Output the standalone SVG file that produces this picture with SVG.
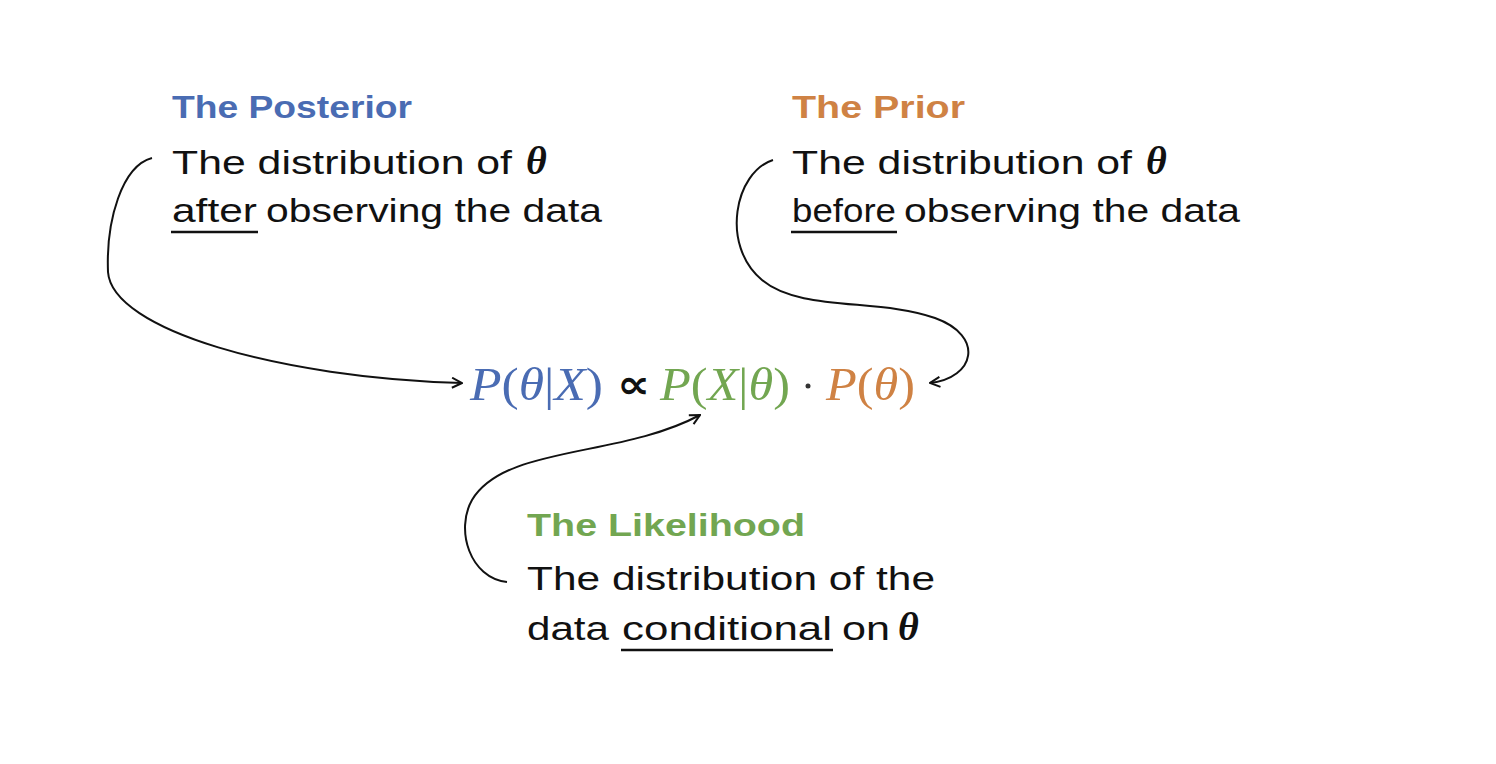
<svg xmlns="http://www.w3.org/2000/svg" width="1496" height="764" viewBox="0 0 1496 764">
<style>
.title{font-family:"Liberation Sans",Arial,sans-serif;font-weight:bold;font-size:31px}
.body{font-family:"Liberation Sans",Arial,sans-serif;font-size:33px;fill:#111}
.th{font-family:"Liberation Serif","DejaVu Serif",serif;font-style:italic;font-weight:bold;font-size:40px;fill:#111}
.eq{font-family:"Liberation Serif","DejaVu Serif",serif;font-size:46px}
.i{font-style:italic}
.blue{fill:#4a6cb3}.orange{fill:#cf8244}.green{fill:#72a651}
.ul{stroke:#111;stroke-width:2.5}
.conn{fill:none;stroke:#111;stroke-width:2;marker-end:url(#arr)}
</style>
<defs>
<marker id="arr" viewBox="0 0 12 12" refX="11" refY="6" markerWidth="12" markerHeight="12" markerUnits="userSpaceOnUse" orient="auto">
<path d="M1,1 L11,6 L1,11" fill="none" stroke="#111" stroke-width="2"/>
</marker>
</defs>
<rect width="1496" height="764" fill="#fff"/>
<g id="connectors">
<path class="conn" d="M152,158 C122,166 106,220 108,272 C112,330 280,378 462,383"/>
<path class="conn" d="M773,160 C735,172 720,245 762,280 C800,312 880,298 935,318 C985,336 975,378 930,383"/>
<path class="conn" d="M507,582 C470,578 455,530 472,500 C505,445 620,458 700,415"/>
</g>
<g id="posterior">
<text class="title blue" x="172" y="118" textLength="240" lengthAdjust="spacingAndGlyphs">The Posterior</text>
<text class="body" x="172" y="174" textLength="340" lengthAdjust="spacingAndGlyphs">The distribution of</text>
<text class="th" x="526" y="174">θ</text>
<text class="body" x="172" y="222" textLength="85" lengthAdjust="spacingAndGlyphs">after</text>
<line class="ul" x1="171" y1="232" x2="258" y2="232"/>
<text class="body" x="266" y="222" textLength="336" lengthAdjust="spacingAndGlyphs">observing the data</text>
</g>
<g id="prior">
<text class="title orange" x="792" y="118" textLength="173" lengthAdjust="spacingAndGlyphs">The Prior</text>
<text class="body" x="792" y="174" textLength="340" lengthAdjust="spacingAndGlyphs">The distribution of</text>
<text class="th" x="1146" y="174">θ</text>
<text class="body" x="792" y="222" textLength="104" lengthAdjust="spacingAndGlyphs">before</text>
<line class="ul" x1="791" y1="232" x2="897" y2="232"/>
<text class="body" x="904" y="222" textLength="336" lengthAdjust="spacingAndGlyphs">observing the data</text>
</g>
<g id="equation">
<text class="eq blue" x="470" y="400" textLength="133" lengthAdjust="spacingAndGlyphs"><tspan class="i">P</tspan>(<tspan class="i">θ</tspan>|<tspan class="i">X</tspan>)</text>
<text x="617" y="398" font-family="DejaVu Sans,sans-serif" font-weight="bold" font-size="40" fill="#111" textLength="33" lengthAdjust="spacingAndGlyphs">∝</text>
<text class="eq green" x="660" y="400" textLength="130" lengthAdjust="spacingAndGlyphs"><tspan class="i">P</tspan>(<tspan class="i">X</tspan>|<tspan class="i">θ</tspan>)</text>
<circle cx="808" cy="386" r="2.5" fill="#333"/>
<text class="eq orange" x="826" y="400" textLength="89" lengthAdjust="spacingAndGlyphs"><tspan class="i">P</tspan>(<tspan class="i">θ</tspan>)</text>
</g>
<g id="likelihood">
<text class="title green" x="527" y="536" textLength="278" lengthAdjust="spacingAndGlyphs">The Likelihood</text>
<text class="body" x="527" y="590" textLength="408" lengthAdjust="spacingAndGlyphs">The distribution of the</text>
<text class="body" x="527" y="640" textLength="82" lengthAdjust="spacingAndGlyphs">data</text>
<text class="body" x="622" y="640" textLength="210" lengthAdjust="spacingAndGlyphs">conditional</text>
<line class="ul" x1="621" y1="650" x2="833" y2="650"/>
<text class="body" x="842" y="640" textLength="48" lengthAdjust="spacingAndGlyphs">on</text>
<text class="th" x="898" y="640">θ</text>
</g>
</svg>
